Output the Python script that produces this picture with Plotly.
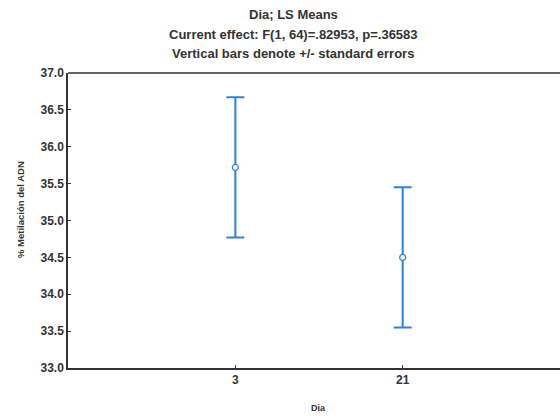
import plotly.graph_objects as go

categories = ["3", "21"]
means = [35.72, 34.50]
std_errors = [0.95, 0.95]
y_ticks = [33.0, 33.5, 34.0, 34.5, 35.0, 35.5, 36.0, 36.5, 37.0]
title_lines = ["Dia; LS Means",
               "Current effect: F(1, 64)=.82953, p=.36583",
               "Vertical bars denote +/- standard errors"]
x_title = "Dia"
y_title = "% Metilación del ADN"

positions = list(range(len(categories)))
blue = "#2f82d8"
font = "Liberation Sans, Arial, sans-serif"
txt = "#333333"

W, H = 560, 420
L, R, T, B = 68, 0, 73, 52
pw, ph = W - L - R, H - T - B


def px_x(x):
    return (x - L) / pw


def px_y(y):
    return (H - B - y) / ph


fig = go.Figure()
fig.add_trace(go.Scatter(
    x=positions, y=means, mode="markers",
    marker=dict(symbol="circle", size=6, color="white", line=dict(color=blue, width=1.2)),
    error_y=dict(type="data", array=std_errors, visible=True, color=blue, thickness=2, width=9),
    showlegend=False,
))

annotations = []
for line, ypx in zip(title_lines, [14.5, 34, 54]):
    annotations.append(dict(text="<b>%s</b>" % line, x=px_x(293), y=px_y(ypx),
                            xref="paper", yref="paper", showarrow=False,
                            xanchor="center", yanchor="middle",
                            font=dict(family=font, size=13, color=txt)))
annotations.append(dict(text="<b>%s</b>" % x_title, x=px_x(318), y=px_y(408),
                        xref="paper", yref="paper", showarrow=False,
                        xanchor="center", yanchor="middle",
                        font=dict(family=font, size=9, color=txt)))
annotations.append(dict(text="<b>%s</b>" % y_title, x=px_x(20), y=px_y(210),
                        xref="paper", yref="paper", showarrow=False, textangle=-90,
                        xanchor="center", yanchor="middle",
                        font=dict(family=font, size=9.5, color=txt)))

fig.update_layout(
    width=W, height=H,
    margin=dict(l=L, r=R, t=T, b=B),
    paper_bgcolor="white", plot_bgcolor="white",
    font=dict(family=font, size=12, color=txt),
    annotations=annotations,
)

fig.update_xaxes(
    range=[-1, 1.94], tickvals=positions, ticktext=["<b>%s</b>" % c for c in categories],
    showline=True, linecolor=txt, linewidth=1.5, mirror=False,
    ticks="inside", ticklen=3, tickcolor=txt,
    showgrid=False, zeroline=False,
    tickfont=dict(size=12, family=font, color=txt),
)
fig.update_yaxes(
    range=[33.0, 37.0], tickvals=y_ticks, ticktext=["<b>%.1f</b>" % v for v in y_ticks],
    showline=True, linecolor=txt, linewidth=1.5, mirror=False,
    ticks="inside", ticklen=3, tickcolor=txt,
    showgrid=False, zeroline=False,
    tickfont=dict(size=12, family=font, color=txt),
)
fig.add_shape(type="line", xref="paper", yref="paper", x0=0, x1=1, y0=1, y1=1,
              line=dict(color=txt, width=1.5))

fig.write_html("out.html")
